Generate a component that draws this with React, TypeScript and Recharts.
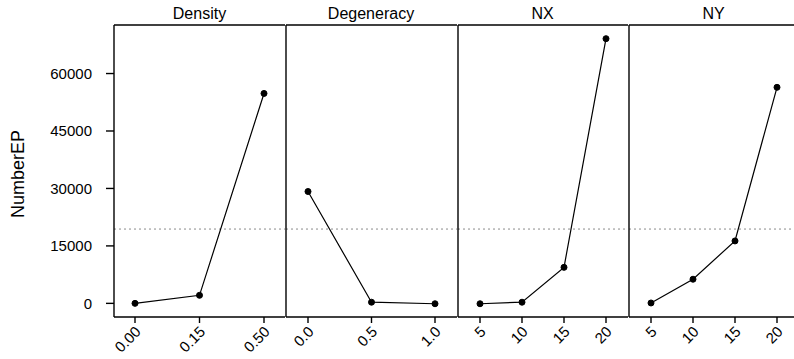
import React from 'react';
import { LineChart, Line, XAxis, YAxis, ReferenceLine } from 'recharts';

const densityLevels = ['0.00', '0.15', '0.50'];
const densityMeans = [0, 2100, 54800];
const degeneracyLevels = ['0.0', '0.5', '1.0'];
const degeneracyMeans = [29200, 300, -100];
const nxLevels = ['5', '10', '15', '20'];
const nxMeans = [-100, 300, 9400, 69100];
const nyLevels = ['5', '10', '15', '20'];
const nyMeans = [100, 6300, 16300, 56400];
const yTicks = [0, 15000, 30000, 45000, 60000];
const grandMean = 19400;
const panelTitles = ['Density', 'Degeneracy', 'NX', 'NY'];
const yLabel = 'NumberEP';

const FONT = '"Liberation Sans", Arial, Helvetica, sans-serif';
const H = 359;
const TOP = 24;
const XAXIS_H = 42;
const Y_DOMAIN: [number, number] = [-3560, 72670];

const panels = [
  { title: panelTitles[0], levels: densityLevels, means: densityMeans, start: 114, width: 171, pad: 21 },
  { title: panelTitles[1], levels: degeneracyLevels, means: degeneracyMeans, start: 285, width: 172, pad: 22 },
  { title: panelTitles[2], levels: nxLevels, means: nxMeans, start: 457, width: 171, pad: 22 },
  { title: panelTitles[3], levels: nyLevels, means: nyMeans, start: 628, width: 171, pad: 22 },
];

const RotTick = (props: any) => {
  const { x, y, payload } = props;
  const ax = x + 3;
  const ay = y + 4;
  return (
    <text
      x={ax}
      y={ay}
      dy="0.35em"
      textAnchor="end"
      transform={`rotate(-45 ${ax} ${ay})`}
      fontSize={15}
      fontFamily={FONT}
      fill="#000"
      stroke="none"
    >
      {payload.value}
    </text>
  );
};

const Panel = ({ p, idx }: { p: typeof panels[number]; idx: number }) => {
  const data = p.levels.map((l, i) => ({ level: l, mean: p.means[i] }));
  const first = idx === 0;
  const extra = first ? 0 : 4;
  const left = first ? 0 : p.start - extra;
  const width = first ? p.start + p.width : p.width + extra;
  return (
    <div style={{ position: 'absolute', left, top: 0, width, height: H }}>
      <LineChart
        width={width}
        height={H}
        data={data}
        margin={{ top: TOP, right: 0, bottom: 0, left: extra }}
      >
        <XAxis
          dataKey="level"
          type="category"
          height={XAXIS_H}
          padding={{ left: p.pad, right: p.pad }}
          stroke="#000"
          strokeWidth={1.4}
          axisLine={true}
          tickLine={true}
          tickSize={6}
          tick={<RotTick />}
          interval={0}
        />
        <XAxis
          xAxisId="top"
          dataKey="level"
          orientation="top"
          height={1}
          stroke="#000"
          strokeWidth={1.4}
          tick={false}
          tickLine={false}
          axisLine={true}
        />
        <YAxis
          type="number"
          domain={Y_DOMAIN}
          ticks={yTicks}
          width={first ? p.start : 1}
          stroke="#000"
          strokeWidth={1.4}
          tick={first ? { fontSize: 15, fontFamily: FONT, fill: '#000', stroke: 'none' } : false}
          tickLine={first}
          tickSize={8}
          tickMargin={14}
          axisLine={true}
          allowDataOverflow
        />
        <ReferenceLine y={grandMean} stroke="#8a8a8a" strokeDasharray="2 3" />
        <Line
          dataKey="mean"
          stroke="#000"
          strokeWidth={1.2}
          dot={{ r: 3, fill: '#000', stroke: '#000', strokeWidth: 1 }}
          isAnimationActive={false}
        />
      </LineChart>
      <div
        style={{
          position: 'absolute',
          left: first ? p.start : extra,
          top: 4,
          width: p.width,
          textAlign: 'center',
          fontFamily: FONT,
          fontSize: 16,
          lineHeight: '20px',
          color: '#000',
        }}
      >
        {p.title}
      </div>
    </div>
  );
};

export default function App() {
  return (
    <div
      style={{
        position: 'absolute',
        left: 0,
        top: 0,
        width: 794,
        height: H,
        overflow: 'hidden',
        background: '#fff',
      }}
    >
      {panels.map((p, i) => (
        <Panel key={p.title} p={p} idx={i} />
      ))}
      <div
        style={{
          position: 'absolute',
          left: 18,
          top: 174,
          transform: 'translate(-50%, -50%) rotate(-90deg)',
          fontFamily: FONT,
          fontSize: 18,
          color: '#000',
          whiteSpace: 'nowrap',
        }}
      >
        {yLabel}
      </div>
    </div>
  );
}
